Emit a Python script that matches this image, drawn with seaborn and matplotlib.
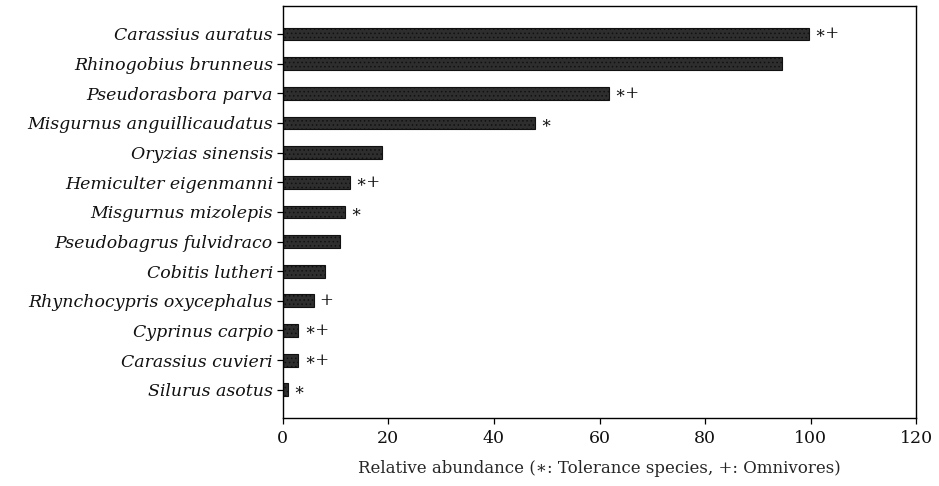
import matplotlib
matplotlib.use("Agg")
import matplotlib.pyplot as plt
import seaborn as sns
import pandas as pd

species = [
    "Carassius auratus",
    "Rhinogobius brunneus",
    "Pseudorasbora parva",
    "Misgurnus anguillicaudatus",
    "Oryzias sinensis",
    "Hemiculter eigenmanni",
    "Misgurnus mizolepis",
    "Pseudobagrus fulvidraco",
    "Cobitis lutheri",
    "Rhynchocypris oxycephalus",
    "Cyprinus carpio",
    "Carassius cuvieri",
    "Silurus asotus",
]
abundance = [99.6, 94.5, 61.7, 47.8, 18.8, 12.7, 11.8, 10.8, 8.0, 5.9, 3.0, 3.0, 1.1]
marks = ["∗+", "", "∗+", "∗", "", "∗+", "∗", "", "", "+", "∗+", "∗+", "∗"]
xticks = [0, 20, 40, 60, 80, 100, 120]

df = pd.DataFrame({"species": species, "abundance": abundance})

sns.set_theme(style="white")
plt.rcParams["font.family"] = ["DejaVu Serif", "DejaVu Sans"]
plt.rcParams["hatch.color"] = "#8f8f8f"
plt.rcParams["hatch.linewidth"] = 0.6

fig = plt.figure(figsize=(9.39, 4.86), dpi=100)
ax = fig.add_axes([0.301, 0.140, 0.675, 0.848])

sns.barplot(data=df, x="abundance", y="species", orient="h",
            color="#2e2e2e", width=0.43, ax=ax, saturation=1)
for p in ax.patches:
    p.set_edgecolor("#111111")
    p.set_linewidth(0.8)
    p.set_hatch("....")

for i, (v, m) in enumerate(zip(abundance, marks)):
    if m:
        ax.text(v + 1.0, i, m, ha="left", va="center", fontsize=12,
                color="#111111")

ax.set_xlim(0, 120)
ax.set_ylim(12.95, -0.95)
ax.set_xticks(xticks)
ax.set_xticklabels([str(t) for t in xticks], fontsize=12.5)
ax.set_yticks(range(len(species)))
ax.set_yticklabels(species, fontsize=12.5, style="italic")
ax.set_ylabel("")
ax.set_xlabel("Relative abundance (∗: Tolerance species, +: Omnivores)",
              fontsize=12, labelpad=9)

for s in ax.spines.values():
    s.set_visible(True)
    s.set_color("black")
    s.set_linewidth(1.0)
ax.tick_params(axis="both", which="major", direction="out", length=4,
               width=0.9, color="black", bottom=True, left=True,
               labelcolor="#111111")
ax.tick_params(axis="x", pad=5)
ax.tick_params(axis="y", pad=3)

fig.savefig("out.png", dpi=100)
